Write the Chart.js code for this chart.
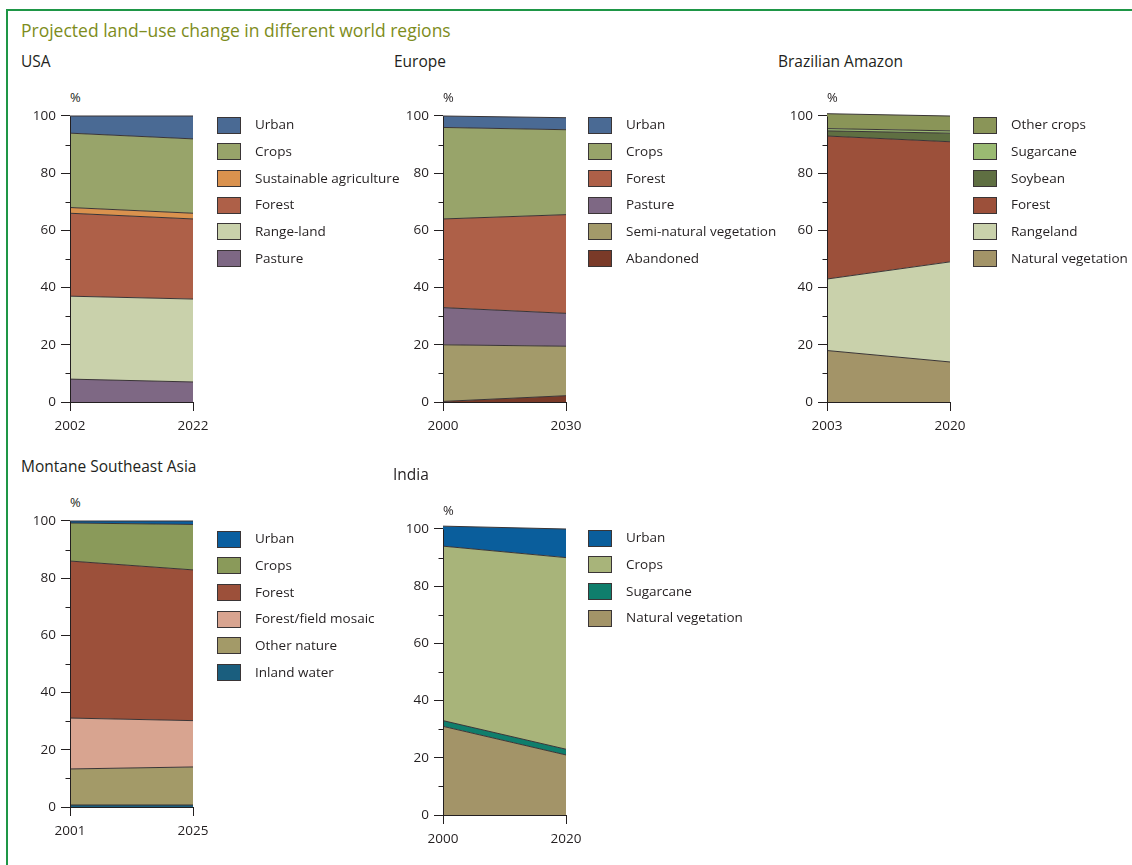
<!DOCTYPE html>
<html>
<head>
<meta charset="utf-8">
<script src="https://cdn.jsdelivr.net/npm/chart.js@4.4.1/dist/chart.umd.min.js"></script>
<style>
  html, body { margin: 0; padding: 0; }
  body { width: 1132px; height: 865px; overflow: hidden; background: #fff; position: relative;
         font-family: 'Open Sans', 'Noto Sans', sans-serif; color: #231f20; }
  .frame { position: absolute; left: 6px; top: 9px; width: 1300px; height: 1000px;
           border-left: 2px solid #1e9646; border-top: 2px solid #1e9646; }
  .title { position: absolute; left: 21px; top: 22px; font-size: 17.5px; line-height: 17.5px;
           color: #7d8c20; white-space: nowrap; }
  .region { position: absolute; font-size: 15.5px; line-height: 15.5px; white-space: nowrap; }
  .pct { position: absolute; font-size: 13px; line-height: 13px; }
  canvas { position: absolute; }
  .legend { position: absolute; }
  .item { position: absolute; left: 0; height: 18px; display: flex; align-items: center; white-space: nowrap; }
  .sw { width: 24px; height: 17px; box-sizing: border-box; border: 1px solid #3a3536; margin-right: 14px; }
  .lt { font-size: 13.5px; line-height: 13.5px; }
</style>
</head>
<body>
<div class="frame"></div>
<div class="title">Projected land–use change in different world regions</div>

<script>
// ---------------- DATA ----------------
// USA (bottom -> top of stack)
const usaYears = ['2002', '2022'];
const usaSeries = ['Pasture', 'Range-land', 'Forest', 'Sustainable agriculture', 'Crops', 'Urban'];
const usaPasture = [8, 7];
const usaRangeland = [29, 29];
const usaForest = [29, 28];
const usaSustainable = [2, 2];
const usaCrops = [26, 26];
const usaUrban = [6, 8];

// Europe
const euYears = ['2000', '2030'];
const euSeries = ['Abandoned', 'Semi-natural vegetation', 'Pasture', 'Forest', 'Crops', 'Urban'];
const euAbandoned = [0.2, 2.2];
const euSemiNatural = [19.8, 17.3];
const euPasture = [13, 11.5];
const euForest = [31, 34.5];
const euCrops = [32, 29.7];
const euUrban = [4, 4.2];

// Brazilian Amazon
const brYears = ['2003', '2020'];
const brSeries = ['Natural vegetation', 'Rangeland', 'Forest', 'Soybean', 'Sugarcane', 'Other crops'];
const brNatural = [18, 14];
const brRangeland = [25, 35];
const brForest = [50, 42];
const brSoybean = [1.8, 3];
const brSugarcane = [0.8, 0.8];
const brOtherCrops = [5.2, 5.2];

// Montane Southeast Asia
const seaYears = ['2001', '2025'];
const seaSeries = ['Inland water', 'Other nature', 'Forest/field mosaic', 'Forest', 'Crops', 'Urban'];
const seaWater = [0.7, 0.7];
const seaOtherNature = [12.6, 13.3];
const seaMosaic = [17.8, 16.2];
const seaForest = [54.9, 52.7];
const seaCrops = [13.3, 15.9];
const seaUrban = [0.7, 1.2];

// India
const inYears = ['2000', '2020'];
const inSeries = ['Natural vegetation', 'Sugarcane', 'Crops', 'Urban'];
const inNatural = [31, 21];
const inSugarcane = [2, 2];
const inCrops = [61, 67];
const inUrban = [7, 10];

const yTickValues = [0, 20, 40, 60, 80, 100];

// ---------------- STYLE / LAYOUT ----------------
const panels = [
  { name: 'USA', years: usaYears, series: usaSeries,
    values: [usaPasture, usaRangeland, usaForest, usaSustainable, usaCrops, usaUrban],
    colors: ['#7e6884', '#c9d1ab', '#ae6048', '#da924e', '#98a46a', '#4a6a94'],
    axisX: 70, rightX: 193, y100: 116, y0: 402, titleX: 21, titleTop: 53.5, legendX: 217, legendY: 116 },
  { name: 'Europe', years: euYears, series: euSeries,
    values: [euAbandoned, euSemiNatural, euPasture, euForest, euCrops, euUrban],
    colors: ['#7a3a28', '#a39a6a', '#7e6884', '#ae6048', '#98a46a', '#4a6a94'],
    axisX: 443, rightX: 566, y100: 116, y0: 402, titleX: 394, titleTop: 53.5, legendX: 588, legendY: 116 },
  { name: 'Brazilian Amazon', years: brYears, series: brSeries,
    values: [brNatural, brRangeland, brForest, brSoybean, brSugarcane, brOtherCrops],
    colors: ['#a39468', '#c9d1ab', '#9c503a', '#5f6f42', '#9aba72', '#8a9558'],
    axisX: 827, rightX: 950, y100: 116, y0: 402, titleX: 778, titleTop: 53.5, legendX: 973, legendY: 116 },
  { name: 'Montane Southeast Asia', years: seaYears, series: seaSeries,
    values: [seaWater, seaOtherNature, seaMosaic, seaForest, seaCrops, seaUrban],
    colors: ['#1a5e7e', '#a39a68', '#d8a490', '#9c503a', '#8a9a5a', '#0a5fa0'],
    axisX: 70, rightX: 193, y100: 521, y0: 807, titleX: 21, titleTop: 458.5, legendX: 217, legendY: 530 },
  { name: 'India', years: inYears, series: inSeries,
    values: [inNatural, inSugarcane, inCrops, inUrban],
    colors: ['#a39468', '#0f7e6c', '#a8b47a', '#0a5e9c'],
    axisX: 443, rightX: 566, y100: 529, y0: 815, titleX: 393, titleTop: 466.5, legendX: 588, legendY: 529 }
];

const INK = '#231f20';
const LINE = '#3a3536';
const Y_AXIS_W = 60, X_AXIS_H = 40, PAD_TOP = 20, PAD_RIGHT = 25, EXTRA_TOP = 6;

const axisExtras = {
  id: 'axisExtras',
  afterDraw(chart) {
    const { ctx, chartArea, scales: { y } } = chart;
    const x = Math.round(chartArea.left) + 0.5;
    ctx.save();
    ctx.strokeStyle = INK;
    ctx.lineWidth = 1;
    ctx.beginPath();
    ctx.moveTo(x, Math.round(y.getPixelForValue(0)) + 0.5);
    ctx.lineTo(x, Math.round(y.getPixelForValue(100)) + 0.5);
    for (let v = 10; v < 100; v += 20) {
      const py = Math.round(y.getPixelForValue(v)) + 0.5;
      ctx.moveTo(x - 5, py);
      ctx.lineTo(x, py);
    }
    ctx.stroke();
    ctx.restore();
  }
};

panels.forEach(p => {
  // region title
  const t = document.createElement('div');
  t.className = 'region';
  t.textContent = p.name;
  t.style.left = p.titleX + 'px';
  t.style.top = p.titleTop + 'px';
  document.body.appendChild(t);

  // % label
  const pc = document.createElement('div');
  pc.className = 'pct';
  pc.textContent = '%';
  pc.style.left = (p.axisX + 0) + 'px';
  pc.style.top = (p.y100 - 25) + 'px';
  document.body.appendChild(pc);

  // canvas
  const plotH = p.y0 - p.y100;
  const areaTop = p.y100 - EXTRA_TOP;
  const cv = document.createElement('canvas');
  const cw = Y_AXIS_W + (p.rightX - p.axisX) + PAD_RIGHT;
  const ch = PAD_TOP + (p.y0 - areaTop) + X_AXIS_H;
  cv.width = cw; cv.height = ch;
  cv.style.width = cw + 'px'; cv.style.height = ch + 'px';
  cv.style.left = (p.axisX - Y_AXIS_W) + 'px';
  cv.style.top = (areaTop - PAD_TOP) + 'px';
  document.body.appendChild(cv);

  const yMax = 100 + EXTRA_TOP * 100 / plotH;

  const datasets = p.values.map((vals, i) => ({
    label: p.series[i],
    data: vals,
    backgroundColor: p.colors[i],
    borderColor: LINE,
    borderWidth: 1,
    pointRadius: 0,
    tension: 0,
    fill: i === 0 ? 'origin' : '-1'
  }));

  new Chart(cv.getContext('2d'), {
    type: 'line',
    data: { labels: p.years, datasets },
    options: {
      responsive: false,
      animation: false,
      devicePixelRatio: 1,
      layout: { padding: { left: 0, top: PAD_TOP, right: PAD_RIGHT, bottom: 0 } },
      plugins: { legend: { display: false }, tooltip: { enabled: false }, title: { display: false } },
      scales: {
        x: {
          type: 'category',
          offset: false,
          afterFit: s => { s.height = X_AXIS_H; },
          border: { display: true, color: INK, width: 1 },
          grid: { display: true, drawOnChartArea: false, drawTicks: true, tickLength: 9, tickColor: INK, offset: false },
          ticks: { color: INK, font: { family: "'Open Sans', sans-serif", size: 13.5 }, padding: 7,
                   maxRotation: 0, autoSkip: false }
        },
        y: {
          stacked: true,
          min: 0,
          max: yMax,
          afterFit: s => { s.width = Y_AXIS_W; },
          afterBuildTicks: s => { s.ticks = yTickValues.map(v => ({ value: v })); },
          border: { display: false },
          grid: { display: true, drawOnChartArea: false, drawTicks: true, tickLength: 9, tickColor: INK },
          ticks: { color: INK, font: { family: "'Open Sans', sans-serif", size: 13.5 }, padding: 5 }
        }
      }
    },
    plugins: [axisExtras]
  });

  // legend (top of stack first)
  const lg = document.createElement('div');
  lg.className = 'legend';
  lg.style.left = p.legendX + 'px';
  lg.style.top = p.legendY + 'px';
  for (let k = 0; k < p.series.length; k++) {
    const i = p.series.length - 1 - k;
    const it = document.createElement('div');
    it.className = 'item';
    it.style.top = (k * 26.67) + 'px';
    const sw = document.createElement('div');
    sw.className = 'sw';
    sw.style.background = p.colors[i];
    const tx = document.createElement('span');
    tx.className = 'lt';
    tx.textContent = p.series[i];
    it.appendChild(sw); it.appendChild(tx);
    lg.appendChild(it);
  }
  document.body.appendChild(lg);
});
</script>
</body>
</html>
